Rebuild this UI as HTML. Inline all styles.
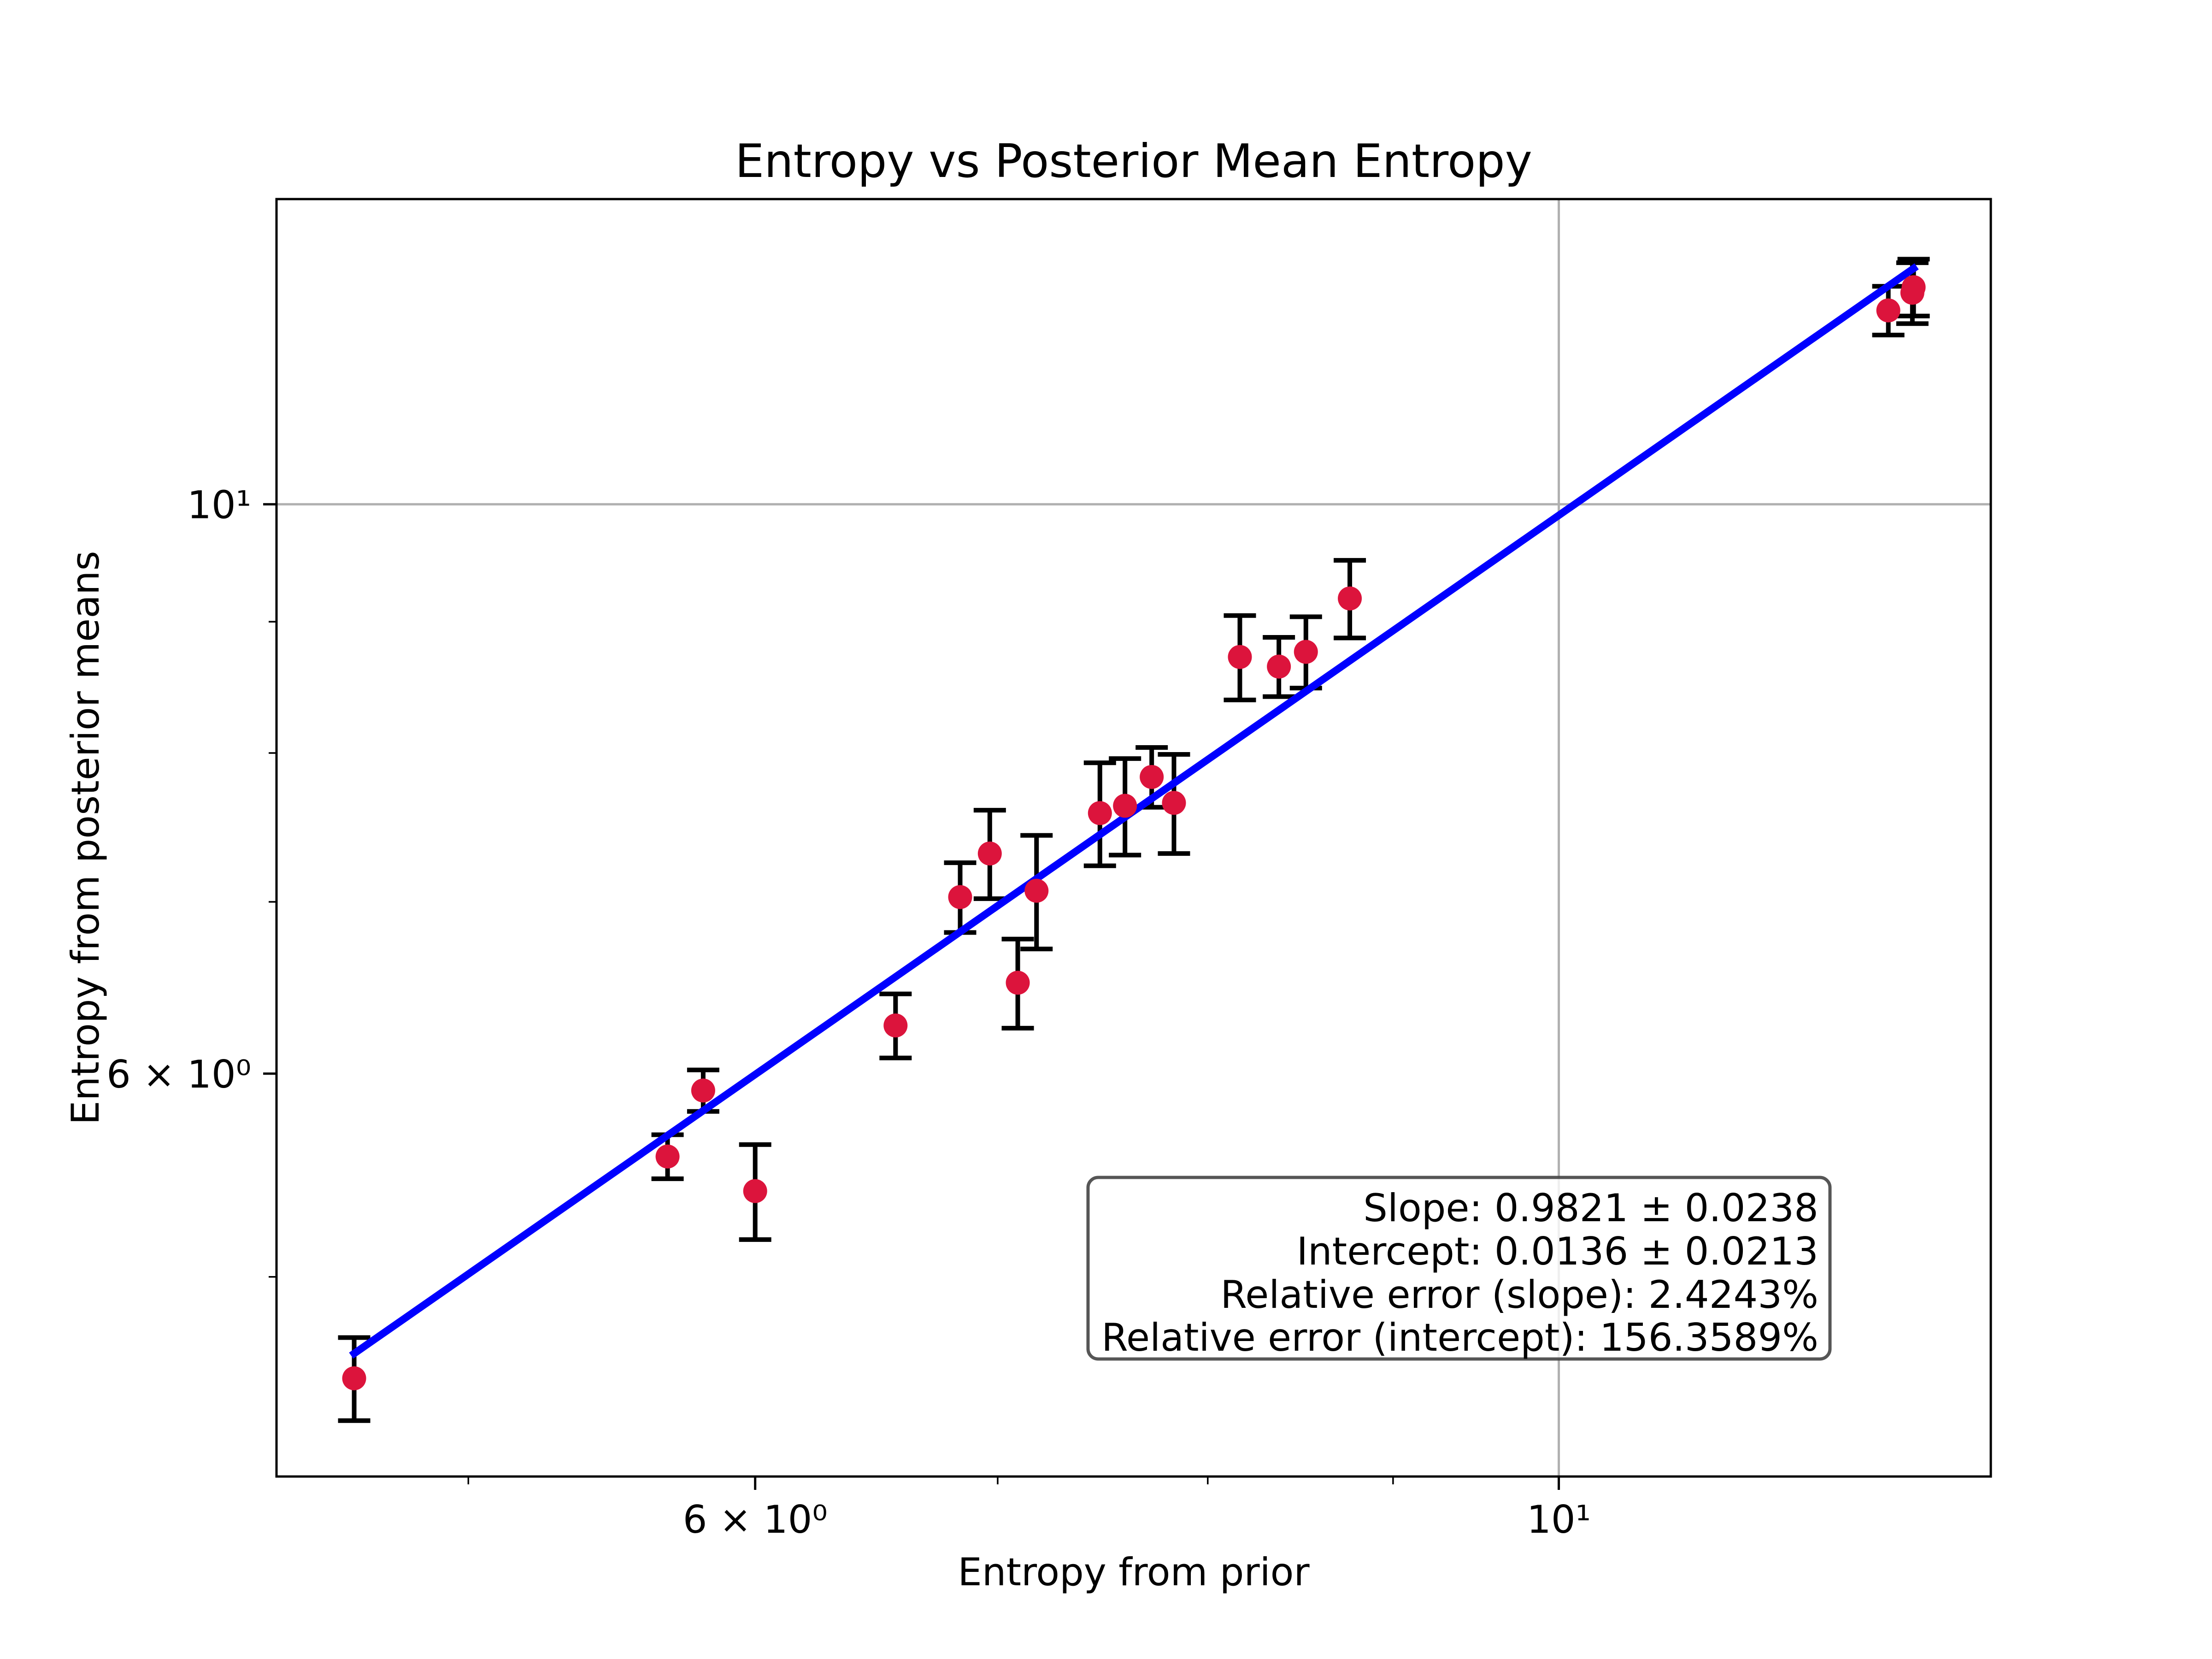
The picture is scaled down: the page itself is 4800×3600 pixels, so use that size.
<!DOCTYPE html>
<html><head><meta charset="utf-8"><style>
html,body{margin:0;padding:0;background:#fff;}
svg{display:block;font-family:"DejaVu Sans","Liberation Sans",sans-serif;}
</style></head><body>
<svg id="chart" width="4800" height="3600" viewBox="0 0 4800 3600" xmlns="http://www.w3.org/2000/svg">
<rect x="0" y="0" width="4800" height="3600" fill="#fff"/>
<text x="2460" y="384" font-size="100" text-anchor="middle">Entropy vs Posterior Mean Entropy</text>
<g id="grid"></g>
<g id="marks"></g>
<rect x="600" y="432" width="3720" height="2772" fill="none" stroke="#000" stroke-width="5"/>
<g id="ticks"></g>
<text x="2460" y="3440" font-size="83" text-anchor="middle">Entropy from prior</text>
<text transform="translate(214,1818) rotate(-90)" font-size="83" text-anchor="middle">Entropy from posterior means</text>
<g>
<rect x="2361" y="2555" width="1610" height="394" rx="22" fill="#fff" fill-opacity="0.8" stroke="#444" stroke-opacity="0.9" stroke-width="7"/>
<text x="3946" y="2650" font-size="83" text-anchor="end">Slope: 0.9821 ± 0.0238</text>
<text x="3946" y="2744" font-size="83" text-anchor="end">Intercept: 0.0136 ± 0.0213</text>
<text x="3946" y="2838" font-size="83" text-anchor="end">Relative error (slope): 2.4243%</text>
<text x="3946" y="2931" font-size="83" text-anchor="end">Relative error (intercept): 156.3589%</text>
</g>
</svg>
<script>
const xVals = [4.65,5.675,5.805,6.0,6.56,6.835,6.965,7.09,7.175,7.47,7.59,7.72,7.83,8.165,8.37,8.515,8.756,12.33,12.52,12.53];
const yVals = [4.565,5.57,5.91,5.40,6.265,7.03,7.31,6.51,7.07,7.58,7.63,7.83,7.65,8.72,8.645,8.76,9.19,11.90,12.09,12.15];
const yErrs = [0.17,0.11,0.11,0.23,0.18,0.22,0.29,0.26,0.36,0.35,0.33,0.21,0.34,0.33,0.23,0.28,0.32,0.26,0.33,0.31];
const fitSlope = [0.9821];
const fitIntercept = [0.0136];
const xMajorTicks = [6,10];
const xMajorLabels = ["6 × 10⁰","10¹"];
const xGridTicks = [10];
const xMinorTicks = [5,7,8,9];
const yMajorTicks = [6,10];
const yMajorLabels = ["6 × 10⁰","10¹"];
const yGridTicks = [10];
const yMinorTicks = [5,7,8,9];

const NS="http://www.w3.org/2000/svg";
const X0=600,X1=4320,Y0=432,Y1=3204;
const xLo=Math.log10(4.426),xHi=Math.log10(13.16);
const yLo=Math.log10(4.18),yHi=Math.log10(13.15);
function sx(v){return X0+(Math.log10(v)-xLo)/(xHi-xLo)*(X1-X0);}
function sy(v){return Y1-(Math.log10(v)-yLo)/(yHi-yLo)*(Y1-Y0);}
function mk(tag,attrs,parent){const e=document.createElementNS(NS,tag);for(const k in attrs)e.setAttribute(k,attrs[k]);parent.appendChild(e);return e;}
const grid=document.getElementById('grid'),marks=document.getElementById('marks'),ticks=document.getElementById('ticks');

xGridTicks.forEach(t=>{
  const g=mk('line',{x1:sx(t),x2:sx(t),y1:Y0,y2:Y1,stroke:'#b0b0b0','stroke-width':5},grid);
  
  
});
yGridTicks.forEach(t=>{
  const g=mk('line',{x1:X0,x2:X1,y1:sy(t),y2:sy(t),stroke:'#b0b0b0','stroke-width':5},grid);
  
  
});
xMajorTicks.forEach((t,i)=>{
  const tk=mk('line',{x1:sx(t),x2:sx(t),y1:Y1,y2:Y1+29,stroke:'#000','stroke-width':5},ticks);
  
  
  const lb=mk('text',{x:sx(t),y:3326,'font-size':83,'text-anchor':'middle'},ticks);
  lb.textContent=xMajorLabels[i];
  
  
});
xMinorTicks.forEach(t=>{
  const tk=mk('line',{x1:sx(t),x2:sx(t),y1:Y1,y2:Y1+17,stroke:'#000','stroke-width':3.5},ticks);
  
  
});
yMajorTicks.forEach((t,i)=>{
  const tk=mk('line',{x1:X0-29,x2:X0,y1:sy(t),y2:sy(t),stroke:'#000','stroke-width':5},ticks);
  
  
  const lb=mk('text',{x:545,y:sy(t)+30,'font-size':83,'text-anchor':'end'},ticks);
  lb.textContent=yMajorLabels[i];
  
  
});
yMinorTicks.forEach(t=>{
  const tk=mk('line',{x1:X0-17,x2:X0,y1:sy(t),y2:sy(t),stroke:'#000','stroke-width':3.5},ticks);
  
  
});

xVals.forEach((x,i)=>{
  const cx=sx(x),top=sy(yVals[i]+yErrs[i]),bot=sy(yVals[i]-yErrs[i]);
  const g=mk('g',{stroke:'#000','stroke-width':10},marks);
  
  
  mk('line',{x1:cx,x2:cx,y1:top,y2:bot},g);
  mk('line',{x1:cx-35,x2:cx+35,y1:top,y2:top},g);
  mk('line',{x1:cx-35,x2:cx+35,y1:bot,y2:bot},g);
});
const xmin=Math.min(...xVals),xmax=Math.max(...xVals);
function fitY(x){return Math.pow(10,fitIntercept[0])*Math.pow(x,fitSlope[0]);}
const fl=mk('line',{x1:sx(xmin),y1:sy(fitY(xmin)),x2:sx(xmax),y2:sy(fitY(xmax)),stroke:'#0000ff','stroke-width':16,'stroke-linecap':'square'},marks);


xVals.forEach((x,i)=>{
  const c=mk('circle',{cx:sx(x),cy:sy(yVals[i]),r:26,fill:'#dc143c'},marks);
  
  
});
</script>
</body></html>
